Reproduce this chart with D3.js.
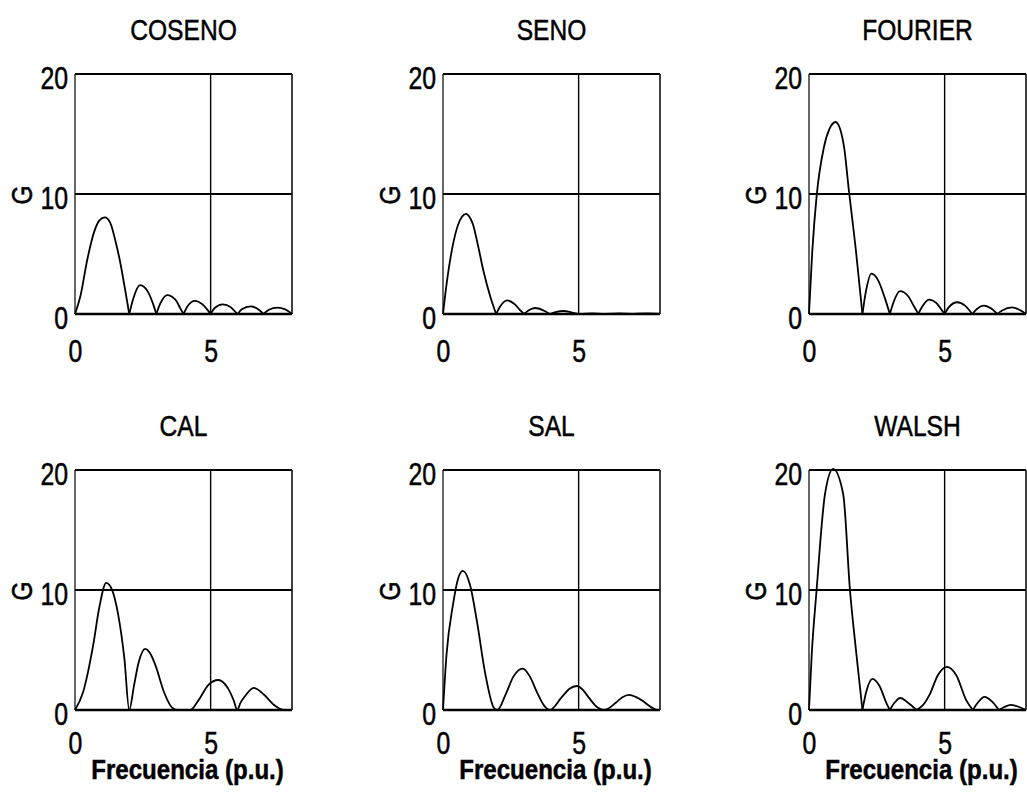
<!DOCTYPE html>
<html>
<head>
<meta charset="utf-8">
<script src="https://cdn.jsdelivr.net/npm/d3@7"></script>
<style>
  body { margin: 0; background: #fff; }
  svg text { font-family: "Liberation Sans", Arial, sans-serif; fill: #000; stroke: #000; stroke-width: 0.5px; }
</style>
</head>
<body>
<svg></svg>
<script>
// panel titles (row by row)
var titles = ["COSENO", "SENO", "FOURIER", "CAL", "SAL", "WALSH"];
var xTicks = [0, 5];
var yTicks = [0, 10, 20];

// frecuencia (p.u.) / G
var cosenoF = [0, 0.2, 0.45, 0.7, 0.9, 1.1, 1.3, 1.5, 1.65, 1.85, 2.0,
               2.15, 2.4, 2.7, 2.9, 3.0, 3.15, 3.4, 3.7, 3.9, 4.0,
               4.15, 4.42, 4.7, 4.9, 5.0, 5.15, 5.45, 5.75, 5.92, 6.0,
               6.15, 6.48, 6.75, 6.95, 7.15, 7.46, 7.75, 8.0];
var cosenoG = [0, 1.5, 4.5, 6.8, 7.8, 8.05, 7.6, 6.0, 4.5, 2.0, 0,
               1.3, 2.4, 1.8, 0.7, 0, 0.9, 1.58, 1.2, 0.4, 0,
               0.65, 1.1, 0.8, 0.3, 0, 0.5, 0.8, 0.55, 0.15, 0,
               0.4, 0.64, 0.4, 0, 0.35, 0.53, 0.38, 0];

var senoF = [0, 0.15, 0.35, 0.55, 0.7, 0.85, 1.0, 1.1, 1.3, 1.5, 1.75, 1.96,
             2.1, 2.37, 2.65, 2.85, 2.99, 3.15, 3.4, 3.7, 3.94,
             4.15, 4.45, 4.75, 5.0, 5.5, 6.0, 6.5, 7.0, 7.5, 8.0];
var senoG = [0, 2.8, 5.6, 7.4, 8.1, 8.35, 8.0, 7.5, 5.6, 3.5, 1.4, 0,
             0.6, 1.13, 0.8, 0.3, 0, 0.3, 0.5, 0.3, 0,
             0.15, 0.25, 0.12, 0, 0.06, 0, 0.05, 0, 0.04, 0];

var fourierF = [0, 0.12, 0.28, 0.55, 0.75, 0.98, 1.15, 1.3, 1.47, 1.72, 1.97,
                2.1, 2.3, 2.55, 2.8, 2.98, 3.12, 3.35, 3.65, 3.88, 4.03,
                4.17, 4.42, 4.7, 4.9, 5.0, 5.15, 5.47, 5.75, 6.02,
                6.18, 6.45, 6.72, 6.94, 7.12, 7.49, 7.8, 8.0];
var fourierG = [0, 5.2, 9.8, 13.9, 15.4, 16.0, 15.4, 13.8, 10.3, 5.5, 0,
                1.9, 3.36, 2.8, 1.3, 0, 1.0, 1.9, 1.5, 0.6, 0,
                0.6, 1.2, 0.9, 0.3, 0, 0.55, 0.98, 0.7, 0,
                0.4, 0.7, 0.45, 0, 0.3, 0.56, 0.3, 0];

var calF = [0, 0.3, 0.67, 0.9, 1.15, 1.35, 1.58, 1.82, 2.0,
            2.18, 2.35, 2.59, 2.8, 2.97, 3.28, 3.58, 3.8, 4.25,
            4.55, 4.92, 5.28, 5.64, 5.85, 5.98,
            6.1, 6.25, 6.59, 6.98, 7.35, 7.7, 8.0];
var calG = [0, 1.5, 5.4, 8.6, 10.6, 10.1, 8.1, 4.3, 0,
            2.1, 4.0, 5.1, 4.6, 3.7, 1.5, 0.2, 0, 0,
            0.8, 2.1, 2.5, 1.8, 0.8, 0,
            0.6, 1.1, 1.85, 1.25, 0.4, 0, 0];

var salF = [0, 0.13, 0.37, 0.55, 0.73, 1.0, 1.25, 1.56, 1.87, 2.0,
            2.31, 2.6, 2.94, 3.2, 3.44, 3.75, 3.94,
            4.37, 4.65, 4.94, 5.15, 5.37, 5.7, 5.94,
            6.37, 6.6, 6.87, 7.1, 7.37, 7.7, 7.93, 8.0];
var salG = [0, 4.6, 8.8, 10.9, 11.6, 10.4, 7.4, 3.0, 0.2, 0,
            1.3, 2.8, 3.45, 2.8, 1.6, 0.3, 0,
            1.05, 1.75, 2.0, 1.7, 1.05, 0.2, 0,
            0.6, 1.05, 1.26, 1.1, 0.75, 0.2, 0, 0];

var walshF = [0, 0.1, 0.28, 0.59, 0.89, 1.26, 1.51, 1.75, 1.97,
              2.12, 2.34, 2.6, 2.85, 2.98, 3.15, 3.37, 3.65, 3.96,
              4.2, 4.45, 4.75, 5.08, 5.43, 5.8, 6.04,
              6.22, 6.47, 6.75, 7.0, 7.2, 7.45, 7.75, 8.0];
var walshG = [0, 4.6, 10, 18, 20.1, 18, 10, 4.6, 0,
              1.6, 2.6, 2.0, 0.6, 0, 0.6, 1.0, 0.6, 0,
              0.4, 1.3, 2.9, 3.6, 2.9, 0.8, 0,
              0.6, 1.1, 0.7, 0, 0.25, 0.42, 0.25, 0];

var seriesF = [cosenoF, senoF, fourierF, calF, salF, walshF];
var seriesG = [cosenoG, senoG, fourierG, calG, salG, walshG];
// lobes meet in a cusp (true) or touch zero smoothly (false)
var sharpZeros = [true, true, true, false, false, true];

var width = 1027, height = 798;
var svg = d3.select("svg").attr("width", width).attr("height", height);

var cols = [75, 443, 809];
var rows = [74, 470];
var plotW = 217, plotH = 240;

var line = d3.line()
  .x(function(d){ return d.x; })
  .y(function(d){ return d.y; })
  .curve(d3.curveMonotoneX);

// the type in the scan is a narrow face: squeeze Liberation Sans sideways
function squeeze(sel, k){
  sel.each(function(){
    var t = d3.select(this);
    var x = +t.attr("x") || 0, y = +t.attr("y") || 0;
    var pre = t.attr("data-rot") || "";
    t.attr("x", null).attr("y", null)
     .attr("transform", "translate(" + x + "," + y + ")" + pre + " scale(" + (k || 0.8) + ",1)");
  });
}

titles.forEach(function(title, i){
  var left = cols[i % 3], top = rows[Math.floor(i / 3)];
  var bottomRow = i >= 3;
  var xScale = d3.scaleLinear().domain([0, 8]).range([0, plotW]);
  var yScale = d3.scaleLinear().domain([0, 20]).range([plotH, 0]);

  var g = svg.append("g").attr("transform", "translate(" + left + "," + top + ")");

  // frame
  g.append("line").attr("x1", 0).attr("x2", plotW).attr("y1", 0).attr("y2", 0)
   .attr("stroke", "#000").attr("stroke-width", 2);
  g.append("line").attr("x1", 0).attr("x2", 0).attr("y1", 0).attr("y2", plotH)
   .attr("stroke", "#000").attr("stroke-width", 1.2);
  g.append("line").attr("x1", plotW).attr("x2", plotW).attr("y1", 0).attr("y2", plotH)
   .attr("stroke", "#000").attr("stroke-width", 1.5);

  // grid at 5 and 10
  g.append("line").attr("x1", xScale(5)).attr("x2", xScale(5)).attr("y1", 0).attr("y2", plotH)
   .attr("stroke", "#000").attr("stroke-width", 1.4);
  g.append("line").attr("x1", 0).attr("x2", plotW).attr("y1", yScale(10)).attr("y2", yScale(10))
   .attr("stroke", "#000").attr("stroke-width", 1.8);

  // base line
  g.append("line").attr("x1", 0).attr("x2", plotW).attr("y1", plotH).attr("y2", plotH)
   .attr("stroke", "#000").attr("stroke-width", 2.4);

  // curve, split into lobes where it hits zero
  var pts = seriesF[i].map(function(f, k){
    return { x: xScale(f), y: yScale(seriesG[i][k]), v: seriesG[i][k] };
  });
  var segs = [];
  if(sharpZeros[i]){
    var cur = [pts[0]];
    for(var k = 1; k < pts.length; k++){
      cur.push(pts[k]);
      if(pts[k].v === 0 && k < pts.length - 1){
        segs.push(cur);
        cur = [pts[k]];
      }
    }
    segs.push(cur);
  }
  else{
    segs.push(pts);
  }
  g.selectAll("path.lobe")
   .data(segs)
   .enter()
   .append("path")
   .attr("class", "lobe")
   .attr("d", line)
   .attr("fill", "none")
   .attr("stroke", "#000")
   .attr("stroke-width", 1.8);

  // axes
  var yAxis = d3.axisLeft(yScale).tickValues(yTicks).tickSize(0).tickPadding(7);
  var ya = g.append("g").call(yAxis);
  ya.select(".domain").remove();
  ya.selectAll("text").attr("font-size", 31).attr("dy", "0.48em");
  squeeze(ya.selectAll("text"));

  var xAxis = d3.axisBottom(xScale).tickValues(xTicks).tickSize(0)
    .tickPadding(bottomRow ? 22 : 26);
  var xa = g.append("g").attr("transform", "translate(0," + plotH + ")").call(xAxis);
  xa.select(".domain").remove();
  xa.selectAll("text").attr("font-size", 31);
  squeeze(xa.selectAll("text"));

  // labels
  var t = g.append("text")
   .attr("x", plotW / 2)
   .attr("y", -34)
   .attr("text-anchor", "middle")
   .attr("font-size", 30)
   .text(title);
  squeeze(t, 0.82);

  var gl = g.append("text")
   .attr("x", -54)
   .attr("y", yScale(10) + 1)
   .attr("data-rot", " rotate(-90)")
   .attr("text-anchor", "middle")
   .attr("dy", "0.36em")
   .attr("font-size", 30)
   .text("G");
  squeeze(gl, 0.82);

  if(bottomRow){
    var fl = g.append("text")
     .attr("x", plotW / 2 + 4)
     .attr("y", plotH + 69)
     .attr("text-anchor", "middle")
     .attr("font-size", 28)
     .attr("font-weight", "bold")
     .text("Frecuencia (p.u.)");
    squeeze(fl, 0.86);
  }
});
</script>
</body>
</html>
